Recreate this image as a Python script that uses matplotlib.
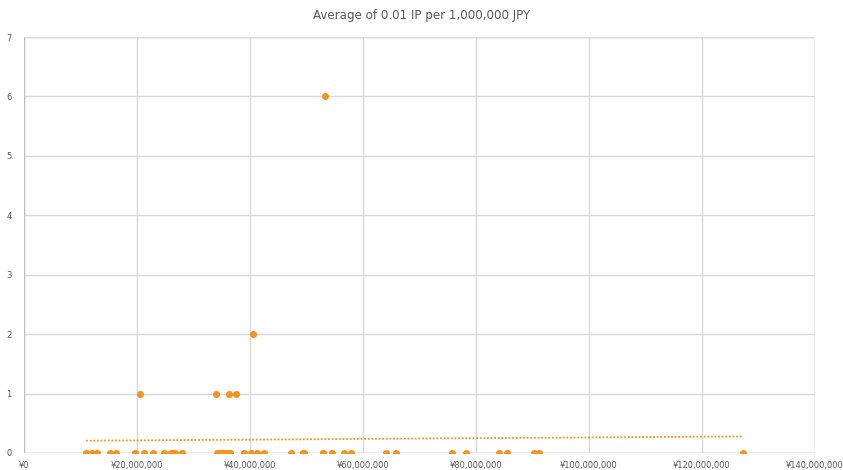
import numpy as np
import matplotlib
matplotlib.use("Agg")
import matplotlib.pyplot as plt
from matplotlib.ticker import FuncFormatter, MultipleLocator

plt.rcParams['font.family'] = ['DejaVu Sans']

title = "Average of 0.01 IP per 1,000,000 JPY"

# Amount (JPY) and IP value for each record
amount_jpy = np.array([
    11.0, 11.0, 12.0, 13.0, 15.3, 16.3, 19.6, 19.6, 20.5, 21.2, 22.8, 24.7,
    26.0, 26.4, 26.4, 26.8, 28.0, 33.9, 34.2, 34.6, 34.6, 35.0, 35.3, 35.3,
    35.9, 36.2, 36.5, 36.5, 37.5, 38.9, 40.1, 40.5, 41.2, 42.5, 47.3, 49.3,
    49.3, 49.5, 52.9, 52.9, 53.3, 54.5, 56.6, 57.8, 64.1, 65.8, 75.8, 78.2,
    84.0, 85.4, 90.3, 91.2, 127.3,
]) * 1_000_000
ip_value = np.array([
    0, 0, 0, 0, 0, 0, 0, 0, 1, 0, 0, 0,
    0, 0, 0, 0, 0, 1, 0, 0, 0, 0, 0, 0,
    0, 1, 0, 0, 1, 0, 0, 2, 0, 0, 0, 0,
    0, 0, 0, 0, 6, 0, 0, 0, 0, 0, 0, 0,
    0, 0, 0, 0, 0,
])

orange = '#f7931e'
grid_c = '#d9d9d9'
text_c = '#595959'

fig = plt.figure(figsize=(8.43, 4.70), dpi=100)
ax = fig.add_axes([24 / 843, 17 / 470, 791 / 843, 416 / 470])

ax.scatter(amount_jpy, ip_value, s=26, color=orange, zorder=3, linewidths=0)

# Linear trend line over the data range
slope, intercept = np.polyfit(amount_jpy, ip_value, 1)
xs = np.array([amount_jpy.min(), amount_jpy.max()])
ax.plot(xs, slope * xs + intercept, linestyle=(0, (1, 1)), color=orange,
        linewidth=1.3, zorder=2)

ax.set_xlim(0, 140_000_000)
ax.set_ylim(0, 7)
ax.xaxis.set_major_locator(MultipleLocator(20_000_000))
ax.yaxis.set_major_locator(MultipleLocator(1))
ax.xaxis.set_major_formatter(FuncFormatter(lambda v, p: f"¥{int(v):,}"))
ax.yaxis.set_major_formatter(FuncFormatter(lambda v, p: f"{int(v)}"))

for s in ax.spines.values():
    s.set_visible(False)
ax.grid(True, color=grid_c, linewidth=1.0, zorder=0)
ax.axhline(0, color='#bfbfbf', linewidth=1.0, zorder=1)
ax.axhline(7, color=grid_c, linewidth=1.0, zorder=1)
ax.axvline(0, color='#bfbfbf', linewidth=1.0, zorder=1)
ax.axvline(140_000_000, color=grid_c, linewidth=1.0, zorder=1)
ax.set_axisbelow(True)

ax.tick_params(axis='both', length=0, labelsize=6.0, labelcolor=text_c)
ax.tick_params(axis='x', pad=6)
ax.tick_params(axis='y', pad=9)

fig.text(0.5, 1 - 16 / 470, title, ha='center', va='center',
         fontsize=8.6, color=text_c)

fig.savefig("out.png", dpi=100, facecolor='white')
